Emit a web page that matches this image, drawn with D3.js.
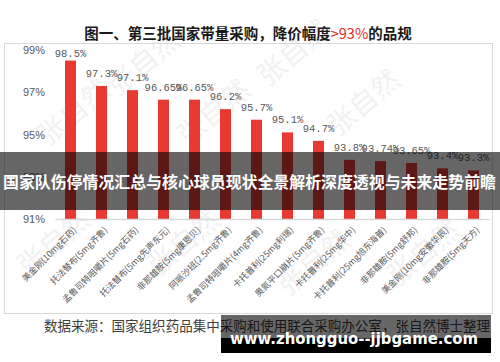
<!DOCTYPE html>
<html>
<head>
<meta charset="utf-8">
<script src="https://cdn.jsdelivr.net/npm/d3@7"></script>
<style>
  body { margin: 0; background: #fff; }
  svg { display: block; }
</style>
</head>
<body>
<div id="chart"></div>
<script>
// Data
const categories = [
  "美金刚(10mg石药)", "托法替布(5mg齐鲁)", "孟鲁司特咀嚼片(5mg石药)",
  "托法替布(5mg先声东元)", "非那雄胺(5mg康恩贝)", "阿哌沙班(2.5mg齐鲁)",
  "孟鲁司特咀嚼片(4mg齐鲁)", "卡托普利(25mg利瑞)", "奥氮平口崩片(5mg齐鲁)",
  "卡托普利(25mg华中)", "卡托普利(25mg旭东海普)", "非那雄胺(5mg舒邦)",
  "美金刚(10mg安徽华辰)", "非那雄胺(5mg天方)"
];
const values = [98.5, 97.3, 97.1, 96.65, 96.65, 96.2, 95.7, 95.1, 94.7, 93.8, 93.74, 93.65, 93.4, 93.3];
const valueLabels = ["98.5%", "97.3%", "97.1%", "96.65%", "96.65%", "96.2%", "95.7%", "95.1%", "94.7%", "93.8%", "93.74%", "93.65%", "93.4%", "93.3%"];
const yTicks = [91, 93, 95, 97, 99];

const W = 500, H = 362;
const grey = "#595959";
const barColor = "#e93a32";

const svg = d3.select("#chart").append("svg")
  .attr("width", W)
  .attr("height", H);

svg.append("rect").attr("width", W).attr("height", H).attr("fill", "#fff");

// faint watermarks behind everything
const marks = [[150, 70], [300, 60], [80, 120], [220, 120], [370, 110],
               [60, 250], [190, 250], [320, 270], [430, 260]];
svg.append("g").selectAll("text")
  .data(marks)
  .enter().append("text")
  .attr("transform", d => `translate(${d[0]},${d[1]}) rotate(-40)`)
  .attr("text-anchor", "middle")
  .attr("font-family", "'Noto Sans CJK SC', sans-serif")
  .attr("font-size", 28)
  .attr("fill", "#000")
  .attr("opacity", 0.05)
  .text("张自然");

// title
const title = svg.append("text")
  .attr("x", 248)
  .attr("y", 39)
  .attr("text-anchor", "middle")
  .attr("font-family", "'Noto Sans CJK SC', sans-serif")
  .attr("font-weight", "bold")
  .attr("font-size", 14.5)
  .attr("fill", "#1a1a1a");
title.append("tspan").text("图一、第三批国家带量采购，降价幅度");
title.append("tspan").attr("fill", "#e8291f").attr("font-weight", "normal").text(">93%");
title.append("tspan").text("的品规");

// frame
svg.append("rect")
  .attr("x", 4.5).attr("y", 43.5)
  .attr("width", 488).attr("height", 270)
  .attr("fill", "none")
  .attr("stroke", "#d9d9d9");

const x = d3.scaleBand()
  .domain(categories)
  .range([55, 489])
  .paddingInner(0.645)
  .paddingOuter(0.3225);

const y = d3.scaleLinear()
  .domain([91, 99])
  .range([219, 50]);

// y axis
const yAxis = svg.append("g")
  .attr("transform", "translate(55,0)")
  .call(d3.axisLeft(y).tickValues(yTicks).tickFormat(d => d + "%").tickSize(0).tickPadding(10));
yAxis.select(".domain").remove();
yAxis.selectAll("text")
  .attr("font-family", "'Liberation Sans', Arial, sans-serif")
  .attr("font-size", 11)
  .attr("fill", grey);

// bars
svg.append("g").selectAll("rect")
  .data(values)
  .enter().append("rect")
  .attr("x", (d, i) => x(categories[i]))
  .attr("y", d => y(d))
  .attr("width", x.bandwidth())
  .attr("height", d => y(91) - y(d))
  .attr("fill", barColor);

// baseline
const xAxis = svg.append("g")
  .attr("transform", "translate(0,219)")
  .call(d3.axisBottom(x).tickSize(0).tickFormat(""));
xAxis.select(".domain").attr("stroke", "#d9d9d9").attr("stroke-width", 1.5);

// value labels
svg.append("g").selectAll("text")
  .data(values)
  .enter().append("text")
  .attr("x", (d, i) => x(categories[i]) + x.bandwidth() / 2)
  .attr("y", d => Math.max(y(d) - 9, 57))
  .attr("text-anchor", "middle")
  .attr("font-family", "'Liberation Mono', monospace")
  .attr("font-size", 10.5)
  .attr("fill", grey)
  .text((d, i) => valueLabels[i]);

// category labels
svg.append("g").selectAll("text")
  .data(categories)
  .enter().append("text")
  .attr("transform", d => `translate(${x(d) + x.bandwidth() / 2 + 2},226) rotate(-45)`)
  .attr("dy", "0.75em")
  .attr("text-anchor", "end")
  .attr("font-family", "'Noto Sans CJK SC', sans-serif")
  .attr("font-size", 8.8)
  .attr("fill", grey)
  .text(d => d);

// source
svg.append("text")
  .attr("x", 44)
  .attr("y", 331)
  .attr("textLength", 446)
  .attr("lengthAdjust", "spacingAndGlyphs")
  .attr("font-family", "'Noto Sans CJK SC', sans-serif")
  .attr("font-size", 14)
  .attr("fill", "#404040")
  .text("数据来源：国家组织药品集中采购和使用联合采购办公室，张自然博士整理");

// overlay band with headline
svg.append("rect")
  .attr("x", 0).attr("y", 152)
  .attr("width", W).attr("height", 58)
  .attr("fill", "rgba(0,0,0,0.6)");
svg.append("text")
  .attr("x", 3)
  .attr("y", 188)
  .attr("textLength", 493)
  .attr("lengthAdjust", "spacingAndGlyphs")
  .attr("font-family", "'Noto Sans CJK SC', sans-serif")
  .attr("font-weight", "bold")
  .attr("font-size", 16)
  .attr("fill", "#fff")
  .text("国家队伤停情况汇总与核心球员现状全景解析深度透视与未来走势前瞻");

// site box bottom right
svg.append("rect")
  .attr("x", 221).attr("y", 315)
  .attr("width", 270).attr("height", 23)
  .attr("fill", "rgba(0,0,0,0.6)");
svg.append("rect")
  .attr("x", 221).attr("y", 338)
  .attr("width", 270).attr("height", 15)
  .attr("fill", "#000");
svg.append("text")
  .attr("x", 230)
  .attr("y", 344)
  .attr("textLength", 248)
  .attr("lengthAdjust", "spacingAndGlyphs")
  .attr("font-family", "'DejaVu Sans', sans-serif")
  .attr("font-weight", "bold")
  .attr("font-size", 16)
  .attr("fill", "#fff")
  .text("www.zhongguo--jjbgame.com");
</script>
</body>
</html>
